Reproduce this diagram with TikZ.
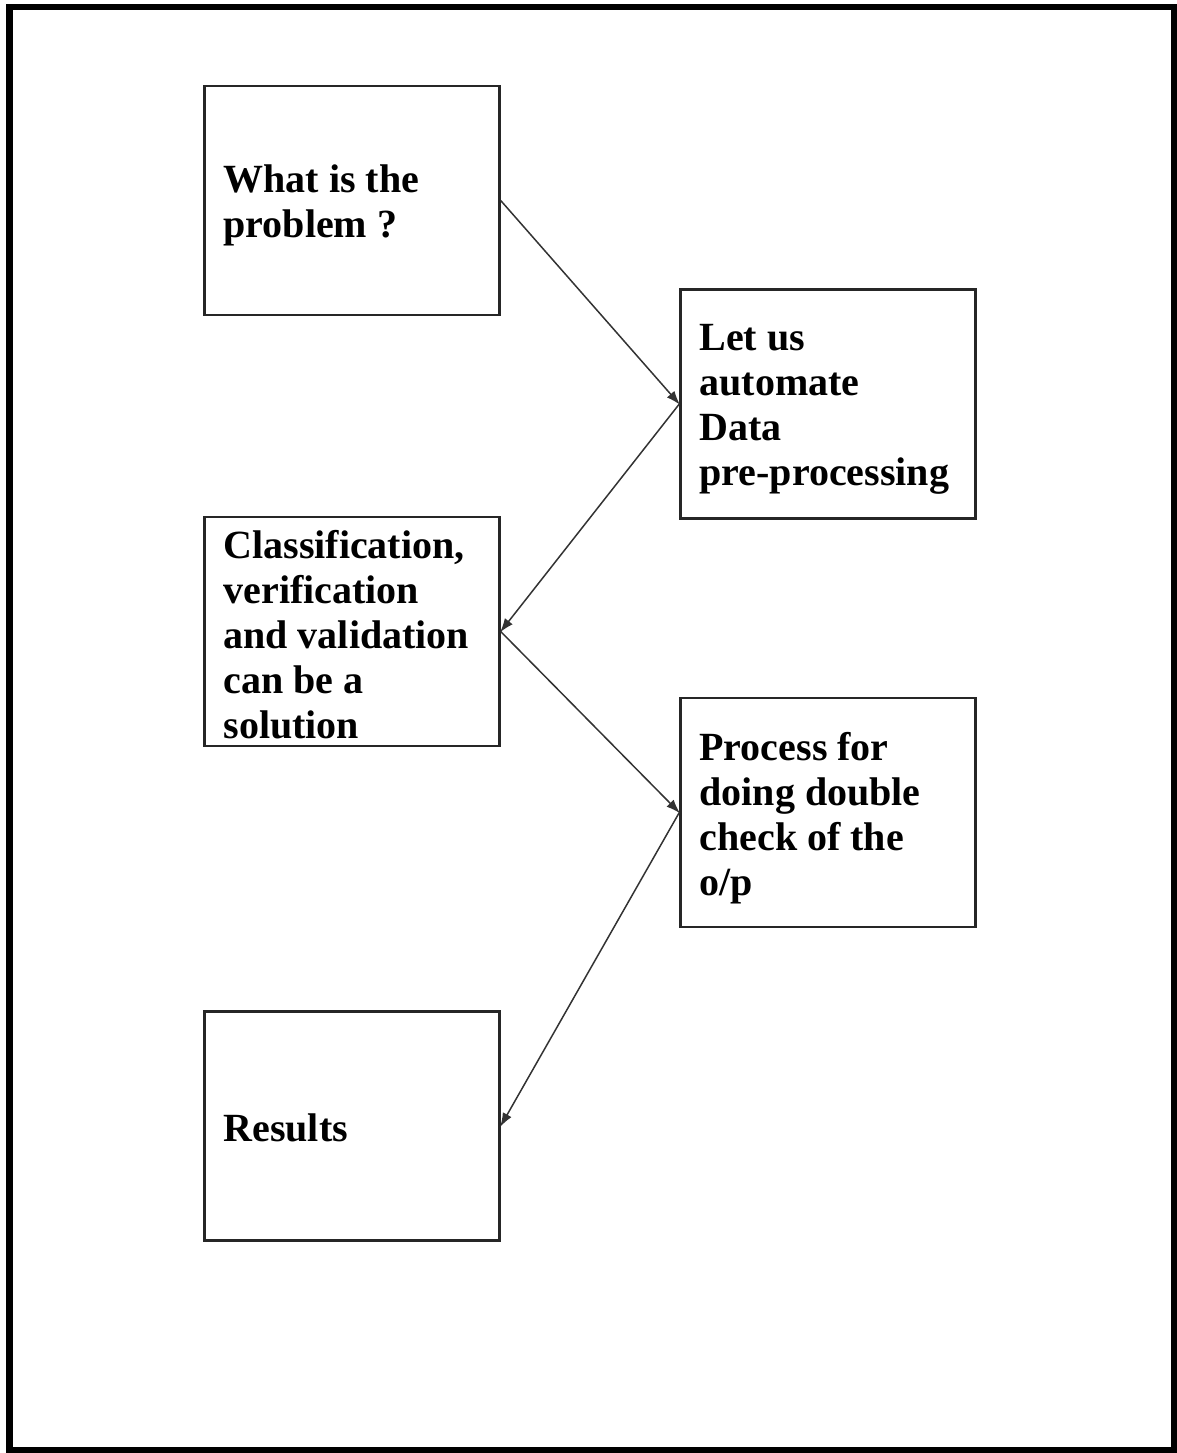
\documentclass[tikz,border=0pt]{standalone}
\usepackage{fontspec}
\setmainfont{Liberation Serif}
\usetikzlibrary{arrows.meta}
\begin{document}
\begin{tikzpicture}[x=1pt,y=-1pt,
  stepbox/.style={draw=black!85, line width=2.4pt, rectangle,
    minimum width=295pt, minimum height=229pt},
  boxtext/.style={anchor=west, align=left, inner sep=0pt, xshift=20pt,
    font=\bfseries\fontsize{40}{45}\selectfont},
  flow/.style={draw=black!80, line width=1.5pt,
    -{Latex[length=14pt,width=10pt]}, shorten >=-1pt}
]
\useasboundingbox (0,0) rectangle (1177,1453);
% outer frame
\draw[line width=6.5pt] (9.5,7) rectangle (1174.5,1450);

% boxes
\node[stepbox] (a) at (352,200.5) {};
\node[stepbox] (b) at (828,404) {};
\node[stepbox] (c) at (352,631.5) {};
\node[stepbox] (d) at (828,812.5) {};
\node[stepbox] (e) at (352,1126) {};

% box labels
\node[boxtext, yshift=-5pt] (ta) at (a.west) {What is the\\problem ?};
\node[boxtext, yshift=-5pt] (tb) at (b.west) {Let us\\automate\\Data\\pre-processing};
\node[boxtext, yshift=-3pt] (tc) at (c.west) {Classification,\\verification\\and validation\\can be a\\solution};
\node[boxtext, yshift=-6pt] (td) at (d.west) {Process for\\doing double\\check of the\\o/p};
\node[boxtext, yshift=-2pt] (te) at (e.west) {Results};

% connectors
\draw[flow] (a.east) -- (b.west);
\draw[flow] (b.west) -- (c.east);
\draw[flow] (c.east) -- (d.west);
\draw[flow] (d.west) -- (e.east);
\end{tikzpicture}
\end{document}
